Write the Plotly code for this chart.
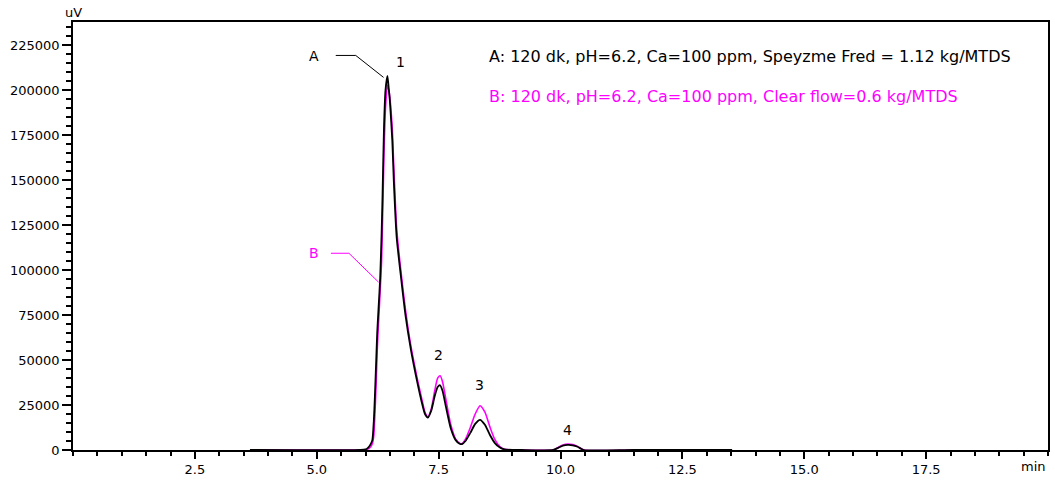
import plotly.graph_objects as go

# Retention time (min)
time_min = [3.63, 5.90, 6.00, 6.05, 6.10, 6.14, 6.17, 6.19, 6.22, 6.24, 6.27, 6.30, 6.33, 6.35,
            6.38, 6.41, 6.45, 6.48, 6.50, 6.55, 6.58, 6.64, 6.72, 6.82, 6.93, 7.06, 7.15, 7.22,
            7.28, 7.35, 7.42, 7.48, 7.53, 7.58, 7.65, 7.75, 7.85, 7.93, 7.98, 8.05, 8.15, 8.25,
            8.35, 8.45, 8.55, 8.65, 8.75, 8.85, 9.20, 9.85, 9.95, 10.05, 10.15, 10.25, 10.35,
            10.48, 11.50, 13.52]

# Signal A (uV): Speyzme Fred
signal_a = [0, 0, 300, 1200, 3000, 5500, 16000, 28000, 50000, 65000, 80000, 95000, 120000, 142000,
            180000, 200000, 208000, 200000, 194000, 172000, 150000, 118000, 98000, 75000, 56000,
            38000, 27000, 20000, 18000, 22000, 30000, 35000, 36000, 33000, 24000, 12000, 5500,
            3500, 3300, 5000, 9500, 14500, 16800, 14000, 8500, 4000, 1500, 300, 0, 0, 1200, 2400,
            2800, 2600, 1800, 0, 0, 0]

# Signal B (uV): Clear flow
signal_b = [0, 0, 0, 500, 1500, 3500, 8000, 18000, 38000, 55000, 72000, 88000, 105000, 128000,
            165000, 190000, 203000, 200000, 196000, 178000, 158000, 123000, 101000, 78000, 58000,
            40000, 29000, 21000, 18500, 23000, 33000, 40000, 41300, 38000, 28000, 14000, 6000,
            3800, 3500, 6000, 12500, 20000, 24600, 21000, 13000, 6000, 2000, 400, 0, 0, 1400, 2800,
            3300, 3000, 2000, 0, 0, 0]

x_tick_vals = [2.5, 5.0, 7.5, 10.0, 12.5, 15.0, 17.5]
x_tick_text = ["2.5", "5.0", "7.5", "10.0", "12.5", "15.0", "17.5"]
y_tick_vals = [0, 25000, 50000, 75000, 100000, 125000, 150000, 175000, 200000, 225000]

peak_labels = ["1", "2", "3", "4"]
peak_times = [6.72, 7.50, 8.34, 10.14]
peak_heights = [216000, 52800, 36100, 11100]

legend_a = "A: 120 dk, pH=6.2, Ca=100 ppm, Speyzme Fred = 1.12 kg/MTDS"
legend_b = "B: 120 dk, pH=6.2, Ca=100 ppm, Clear flow=0.6 kg/MTDS"

MAG = "#FF00FF"
FONT = "DejaVu Sans, Verdana, sans-serif"

fig = go.Figure()
fig.add_trace(go.Scatter(x=time_min, y=signal_b, mode="lines",
                         line=dict(color=MAG, width=1.6, shape="spline", smoothing=0.6),
                         hoverinfo="skip", showlegend=False))
fig.add_trace(go.Scatter(x=time_min, y=signal_a, mode="lines",
                         line=dict(color="black", width=1.8, shape="spline", smoothing=0.6),
                         hoverinfo="skip", showlegend=False))

annotations = []
for lab, t, h in zip(peak_labels, peak_times, peak_heights):
    annotations.append(dict(x=t, y=h, text=lab, showarrow=False, xref="x", yref="y",
                            font=dict(size=14, color="black", family=FONT)))

annotations += [
    dict(x=4.94, y=218900, text="A", showarrow=False, font=dict(size=14, color="black", family=FONT)),
    dict(x=4.94, y=109400, text="B", showarrow=False, font=dict(size=14, color=MAG, family=FONT)),
    dict(x=8.50, y=218900, text=legend_a, showarrow=False, xanchor="left",
         font=dict(size=16, color="black", family=FONT)),
    dict(x=8.50, y=196700, text=legend_b, showarrow=False, xanchor="left",
         font=dict(size=16, color=MAG, family=FONT)),
    dict(x=0, y=1, xref="paper", yref="paper", text="uV", showarrow=False,
         xanchor="center", yanchor="bottom", yshift=0, font=dict(size=13, color="black", family=FONT)),
    dict(x=1, y=0, xref="paper", yref="paper", text="min", showarrow=False,
         xanchor="right", yanchor="top", yshift=-7, font=dict(size=13, color="black", family=FONT)),
]

shapes = [
    dict(type="path", path="M 5.39 219400 L 5.80 219400 L 6.37 207200",
         line=dict(color="black", width=1)),
    dict(type="path", path="M 5.29 109400 L 5.66 109400 L 6.27 93300",
         line=dict(color=MAG, width=1)),
]

fig.update_layout(
    width=1055, height=482,
    margin=dict(l=73, r=5, t=22, b=31),
    paper_bgcolor="white", plot_bgcolor="white",
    font=dict(family=FONT, size=13, color="black"),
    annotations=annotations, shapes=shapes,
    showlegend=False,
)
fig.update_xaxes(range=[0, 20], tickmode="array", tickvals=x_tick_vals, ticktext=x_tick_text,
                 ticks="outside", ticklen=7, tickwidth=1.5, tickcolor="black",
                 showline=True, linecolor="black", linewidth=1.5, mirror=True,
                 showgrid=False, zeroline=False,
                 minor=dict(dtick=0.5, ticks="outside", ticklen=4, tickwidth=1.5, tickcolor="black"),
                 tickfont=dict(size=13, family=FONT))
fig.update_yaxes(range=[0, 238000], tickmode="array", tickvals=y_tick_vals, tickformat="d",
                 ticks="outside", ticklen=9, tickwidth=1.5, tickcolor="black",
                 showline=True, linecolor="black", linewidth=1.5, mirror=True,
                 showgrid=False, zeroline=False,
                 minor=dict(dtick=5000, tick0=0, ticks="outside", ticklen=5, tickwidth=1.5, tickcolor="black"),
                 tickfont=dict(size=13, family=FONT))

fig.write_html("out.html")
